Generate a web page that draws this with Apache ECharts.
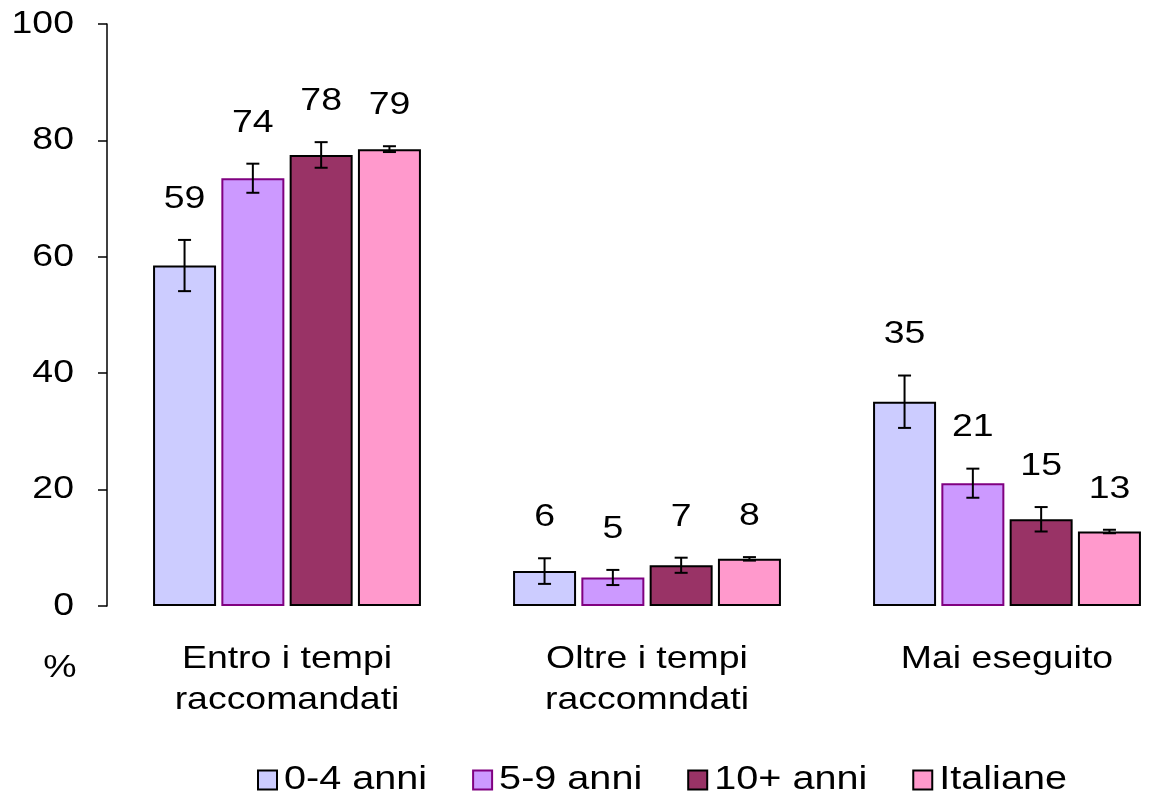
<!DOCTYPE html>
<html>
<head>
<meta charset="utf-8">
<script src="https://cdn.jsdelivr.net/npm/echarts@6/dist/echarts.min.js"></script>
<style>html,body{margin:0;padding:0;background:#fff;}#c{width:1153px;height:799px;}</style>
</head>
<body>
<div id="c"></div>
<script>
var categories = ['Entro i tempi\nraccomandati', 'Oltre i tempi\nraccomndati', 'Mai eseguito'];
var seriesNames = ['0-4 anni', '5-9 anni', '10+ anni', 'Italiane'];
var v04 = [58.5, 6.0, 35.1];
var v59 = [73.5, 4.9, 21.1];
var v10 = [77.5, 7.0, 14.9];
var vIt = [78.5, 8.1, 12.8];
var e04 = [4.4, 2.2, 4.5];
var e59 = [2.5, 1.3, 2.5];
var e10 = [2.2, 1.3, 2.1];
var eIt = [0.5, 0.3, 0.3];
var yTicks = [0, 20, 40, 60, 80, 100];

var values = [v04, v59, v10, vIt];
var errors = [e04, e59, e10, eIt];
var colors = ['#CCCCFF', '#CC99FF', '#993366', '#FF99CC'];
var borders = ['#000000', '#800080', '#000000', '#000000'];
var FONT = '"Liberation Sans", Arial, sans-serif';
var FS = 32;
var SX = 1.17;
var BAR_W = 63, STEP = 68.3;

var chart = echarts.init(document.getElementById('c'), null, {renderer: 'canvas'});
var series = [];
values.forEach(function (vals, k) {
  series.push({
    name: seriesNames[k], type: 'bar', data: vals, barWidth: BAR_W, barGap: '8.4%',
    itemStyle: {color: colors[k], borderColor: borders[k], borderWidth: 2},
    z: 2
  });
});
values.forEach(function (vals, k) {
  var d = vals.map(function (v, i) { return [i, v - errors[k][i], v + errors[k][i], v]; });
  series.push({
    type: 'custom', name: seriesNames[k] + '_err', data: d, z: 5, silent: true,
    encode: {x: 0, y: [1, 2]},
    renderItem: function (params, api) {
      var off = (k - 1.5) * STEP;
      var lo = api.coord([api.value(0), api.value(1)]);
      var hi = api.coord([api.value(0), api.value(2)]);
      var x = lo[0] + off;
      var cap = 6.5;
      var st = {stroke: '#000', lineWidth: 2};
      return {type: 'group', children: [
        {type: 'line', shape: {x1: x, y1: lo[1], x2: x, y2: hi[1]}, style: st},
        {type: 'line', shape: {x1: x - cap, y1: lo[1], x2: x + cap, y2: lo[1]}, style: st},
        {type: 'line', shape: {x1: x - cap, y1: hi[1], x2: x + cap, y2: hi[1]}, style: st},
        {type: 'text', x: x, y: hi[1] - 41, scaleX: SX, style: {text: String(Math.round(api.value(3))), fill: '#000', font: FS + 'px ' + FONT, align: 'center', verticalAlign: 'middle'}}
      ]};
    }
  });
});
// category labels (horizontally stretched like the reference)
series.push({
  type: 'custom', name: 'xlabels', silent: true, z: 6,
  data: categories.map(function (c, i) { return [i, 0]; }),
  encode: {x: 0, y: 1},
  renderItem: function (params, api) {
    var p = api.coord([api.value(0), 0]);
    var cs = params.coordSys;
    return {type: 'text', x: p[0], y: cs.y + cs.height + 33, scaleX: SX,
      style: {text: categories[params.dataIndex], fill: '#000', font: FS + 'px ' + FONT, lineHeight: 41, align: 'center', verticalAlign: 'top'}};
  }
});
// y tick labels
series.push({
  type: 'custom', name: 'ylabels', silent: true, z: 6,
  data: yTicks.map(function (t) { return [0, t]; }),
  encode: {x: 0, y: 1},
  renderItem: function (params, api) {
    var p = api.coord([0, api.value(1)]);
    var cs = params.coordSys;
    return {type: 'text', x: cs.x - 33, y: p[1], scaleX: SX,
      style: {text: String(api.value(1)), fill: '#000', font: FS + 'px ' + FONT, align: 'right', verticalAlign: 'middle'}};
  }
});

// legend built as graphics so its text can match the stretched reference type
var LSX = 1.2;
var ctx = document.createElement('canvas').getContext('2d');
ctx.font = '33px "Liberation Sans", Arial, sans-serif';
var legendEls = [];
var lx = 258, ly = 780, box = 19;
seriesNames.forEach(function (n, k) {
  legendEls.push({type: 'rect', shape: {x: lx, y: ly - box / 2, width: box, height: box},
    style: {fill: colors[k], stroke: borders[k], lineWidth: 2}});
  var tx = lx + box + 7;
  legendEls.push({type: 'text', x: tx, y: ly, scaleX: LSX,
    style: {text: n, font: '33px ' + FONT, fill: '#000', align: 'left', verticalAlign: 'middle'}});
  lx = tx + ctx.measureText(n).width * LSX + 46;
});

chart.setOption({
  animation: false,
  backgroundColor: '#fff',
  grid: {left: 107, top: 24, bottom: 193, width: 1080, containLabel: false, outerBoundsMode: 'none'},
  xAxis: {
    type: 'category', data: categories,
    axisLine: {show: false}, axisTick: {show: false}, axisLabel: {show: false}
  },
  yAxis: {
    type: 'value', min: yTicks[0], max: yTicks[yTicks.length - 1], interval: 20,
    axisLine: {show: true, lineStyle: {color: '#000', width: 1.5}},
    axisTick: {show: true, length: 9, lineStyle: {color: '#000', width: 1.5}},
    splitLine: {show: false},
    axisLabel: {show: false}
  },
  graphic: [{type: 'text', x: 60, y: 668, scaleX: SX, style: {text: '%', font: FS + 'px ' + FONT, fill: '#000', align: 'center', verticalAlign: 'middle'}}].concat(legendEls),
  series: series
});
</script>
</body>
</html>
